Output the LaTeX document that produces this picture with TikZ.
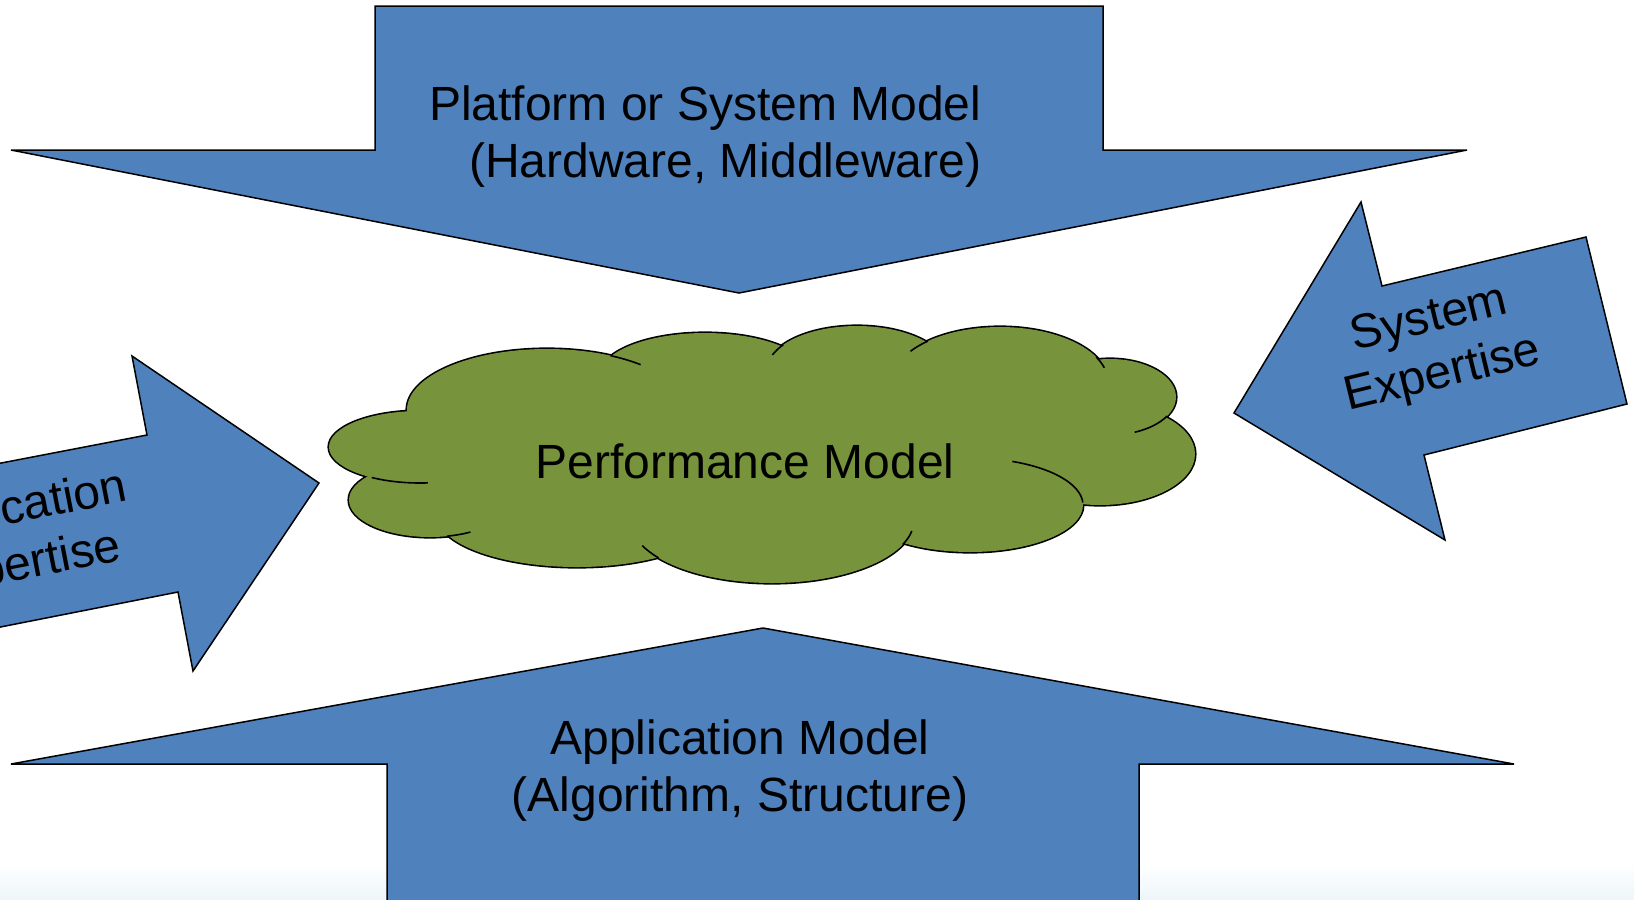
\documentclass[tikz,border=0pt]{standalone}
\usepackage{fontspec}
\setmainfont{Liberation Sans}
\usepackage{tikz}

\definecolor{arrowblue}{HTML}{4F81BD}
\definecolor{cloudgreen}{HTML}{77933C}
\definecolor{slidetint}{HTML}{EEF6FA}

% bumps of the cloud: centre x / centre y / x radius / y radius
\def\puffs{420/447/91/36, 430/500/81/37, 577/515/140/52, 547/410/140/61,
  705/375/105/42, 857/370/90/44, 1000/382/108/55, 1110/397/66/38,
  1100/454/95/51, 970/505/113/47, 772/520/142/63}

\begin{document}
\begin{tikzpicture}[x=0.1mm,y=-0.1mm,line join=miter,
  bigarrow/.style={fill=arrowblue,draw=black,line width=0.15mm},
  slidetext/.style={font=\fontsize{13.66}{16.2}\selectfont,inner sep=0pt}]
\useasboundingbox (0,0) rectangle (1634,899);
\clip (0,0) rectangle (1634,899);
\shade[top color=white,bottom color=slidetint] (0,862) rectangle (1634,899);

% the four block arrows
\draw[bigarrow] (375,6) -- (1103,6) -- (1103,150) -- (1467,150) -- (739,293) -- (11,150) -- (375,150) -- cycle;
\draw[bigarrow] (387,920) -- (387,764) -- (11,764) -- (763,628) -- (1514,764) -- (1139,764) -- (1139,920);
\draw[bigarrow] (-30,469) -- (147,435) -- (132,356) -- (319,483) -- (193,671) -- (178,592) -- (-30,633) -- cycle;
\draw[bigarrow] (1234,413) -- (1361,202) -- (1382,286) -- (1586,237) -- (1627,404) -- (1424,455) -- (1445,540) -- cycle;

% cloud: outlines first, then the fill covers the inner halves
\foreach \cx/\cy/\rx/\ry in \puffs
  \draw[line width=0.32mm] (\cx,\cy) ellipse [x radius=\rx, y radius=\ry];
\foreach \cx/\cy/\rx/\ry in \puffs
  \fill[cloudgreen] (\cx,\cy) ellipse [x radius=\rx, y radius=\ry];
\fill[cloudgreen] (750,445) ellipse [x radius=330, y radius=75];
\foreach \cx/\cy/\rx/\ry/\from/\to in {420/447/91/36/122/85, 430/500/81/37/78/60,
    547/410/140/61/-63/-48, 857/370/90/44/215/200, 1000/382/108/55/228/214,
    1000/382/108/55/-27/-15, 1110/397/66/38/30/68, 970/505/113/47/-68/-3,
    772/520/142/63/23/10, 772/520/142/63/143/156}
  \draw[line width=0.16mm] (\cx,\cy) ++({\rx*cos(\from)},{\ry*sin(\from)}) arc[start angle=\from, end angle=\to, x radius=\rx, y radius=\ry];

% texts (base anchor = baseline of the last line)
\node[slidetext,anchor=base east,align=right] (platform) at (982,177) {Platform or System Model\\(Hardware, Middleware)};
\node[slidetext,anchor=base,align=center] (application) at (740,811) {Application Model\\(Algorithm, Structure)};
\node[slidetext,anchor=base] (perfmodel) at (745,478) {Performance Model};
\node[slidetext,align=center,rotate=13.6] (sysexp) at (1436,348) {System\\Expertise};
\node[slidetext,align=center,rotate=11] (appexp) at (17,539) {Application\\Expertise};
\end{tikzpicture}
\end{document}
